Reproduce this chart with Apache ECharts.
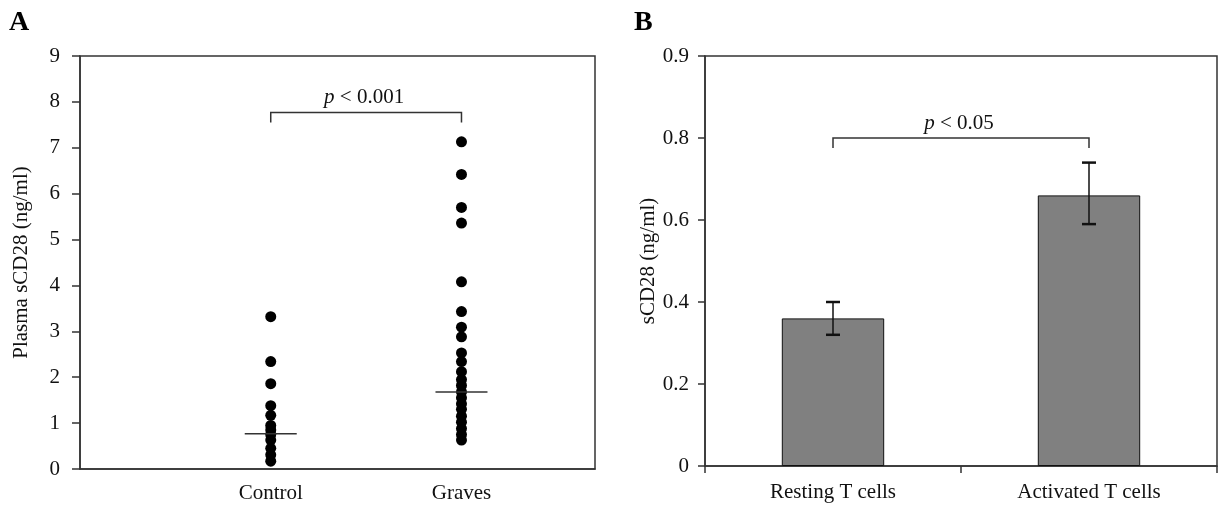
<!DOCTYPE html>
<html>
<head>
<meta charset="utf-8">
<script src="https://cdn.jsdelivr.net/npm/echarts@6/dist/echarts.min.js"></script>
<style>
html,body{margin:0;padding:0;background:#fff;}
#chart{width:1221px;height:505px;}
</style>
</head>
<body>
<div id="chart"></div>
<script>
// ---------- Panel A data ----------
const categoriesA = ['Control', 'Graves'];
const controlValues = [3.32, 2.34, 1.86, 1.38, 1.17, 0.95, 0.85, 0.75, 0.63, 0.45, 0.31, 0.17];
const gravesValues = [7.13, 6.42, 5.70, 5.36, 4.08, 3.43, 3.09, 2.88, 2.53, 2.34, 2.12, 1.95, 1.82, 1.68, 1.55, 1.42, 1.30, 1.15, 1.02, 0.88, 0.75, 0.63];
const mediansA = [0.77, 1.68];
const yTicksA = ['0','1','2','3','4','5','6','7','8','9'];
const bracketA = {from: 1, to: 2, y: 7.77, label: 'p < 0.001'};

// ---------- Panel B data ----------
const categoriesB = ['Resting T cells', 'Activated T cells'];
const barValuesB = [0.36, 0.66];
const errLowB = [0.32, 0.59];
const errHighB = [0.40, 0.74];
const yTicksB = ['0', '0.2', '0.4', '0.6', '0.8', '0.9'];
const bracketB = {from: 0, to: 1, y: 0.80, label: 'p < 0.05'};

const FONT = '"Liberation Serif", "DejaVu Serif", serif';
const FS = 21;
const TXT = '#111';
const LINE = '#333';

function bracketRender(b) {
  return function (params, api) {
    const p1 = api.coord([b.from, b.y]);
    const p2 = api.coord([b.to, b.y]);
    const leg = 10;
    return {
      type: 'group',
      children: [
        {type: 'polyline', shape: {points: [[p1[0], p1[1] + leg], [p1[0], p1[1]], [p2[0], p2[1]], [p2[0], p2[1] + leg]]},
         style: {stroke: LINE, lineWidth: 1.5, fill: null}},
        {type: 'text', x: (p1[0] + p2[0]) / 2 - 2, y: p1[1] - 4,
         style: {text: '{i|p}{n|' + b.label.slice(1) + '}', align: 'center', verticalAlign: 'bottom',
                 rich: {i: {fontStyle: 'italic', fontSize: FS, fontFamily: FONT, fill: TXT},
                        n: {fontSize: FS, fontFamily: FONT, fill: TXT}}}}
      ]
    };
  };
}

const chart = echarts.init(document.getElementById('chart'), null, {renderer: 'canvas'});
const option = {
  animation: false,
  backgroundColor: '#fff',
  graphic: [
    {type: 'text', left: 9, top: 9, style: {text: 'A', font: 'bold 28px ' + FONT, fill: '#000'}},
    {type: 'text', left: 634, top: 9, style: {text: 'B', font: 'bold 28px ' + FONT, fill: '#000'}}
  ],
  grid: [
    {left: 80, top: 56, width: 515, height: 413, show: true, borderColor: LINE, borderWidth: 1.5, backgroundColor: 'transparent'},
    {left: 705, top: 56, width: 512, height: 410, show: true, borderColor: LINE, borderWidth: 1.5, backgroundColor: 'transparent'}
  ],
  xAxis: [
    {gridIndex: 0, type: 'value', min: 0, max: 2.7, interval: 1,
     axisLine: {show: true, lineStyle: {color: LINE, width: 1.5}},
     axisTick: {show: false}, splitLine: {show: false},
     axisLabel: {margin: 14, fontSize: FS, fontFamily: FONT, color: TXT,
       formatter: v => (Number.isInteger(v) && v >= 1 && v <= categoriesA.length) ? categoriesA[v - 1] : ''}},
    {gridIndex: 1, type: 'category', data: categoriesB,
     axisLine: {show: true, lineStyle: {color: LINE, width: 1.5}},
     axisTick: {show: true, length: 7, lineStyle: {color: LINE, width: 1.5}},
     axisLabel: {margin: 16, fontSize: FS, fontFamily: FONT, color: TXT}}
  ],
  yAxis: [
    {gridIndex: 0, type: 'value', min: 0, max: 9, interval: 1,
     name: 'Plasma sCD28 (ng/ml)', nameLocation: 'middle', nameGap: 48,
     nameTextStyle: {fontSize: FS, fontFamily: FONT, color: TXT},
     axisLine: {show: true, lineStyle: {color: LINE, width: 1.5}},
     axisTick: {show: true, length: 8, lineStyle: {color: LINE, width: 1.5}},
     splitLine: {show: false},
     axisLabel: {margin: 20, fontSize: FS, fontFamily: FONT, color: TXT,
       formatter: v => yTicksA[Math.round(v)]}},
    {gridIndex: 1, type: 'value', min: 0, max: 1, interval: 0.2,
     name: 'sCD28 (ng/ml)', nameLocation: 'middle', nameGap: 46,
     nameTextStyle: {fontSize: FS, fontFamily: FONT, color: TXT},
     axisLine: {show: true, lineStyle: {color: LINE, width: 1.5}},
     axisTick: {show: true, length: 7, lineStyle: {color: LINE, width: 1.5}},
     splitLine: {show: false},
     axisLabel: {margin: 16, fontSize: FS, fontFamily: FONT, color: TXT,
       formatter: v => yTicksB[Math.round(v / 0.2)]}}
  ],
  series: [
    {type: 'scatter', xAxisIndex: 0, yAxisIndex: 0, symbol: 'circle', symbolSize: 11,
     itemStyle: {color: '#000', opacity: 1}, data: controlValues.map(v => [1, v])},
    {type: 'scatter', xAxisIndex: 0, yAxisIndex: 0, symbol: 'circle', symbolSize: 11,
     itemStyle: {color: '#000', opacity: 1}, data: gravesValues.map(v => [2, v])},
    {type: 'custom', xAxisIndex: 0, yAxisIndex: 0, z: 5,
     data: mediansA.map((m, i) => [i + 1, m]),
     renderItem: function (params, api) {
       const c = api.coord([api.value(0), api.value(1)]);
       return {type: 'line', shape: {x1: c[0] - 26, y1: c[1], x2: c[0] + 26, y2: c[1]},
               style: {stroke: LINE, lineWidth: 1.5}};
     }},
    {type: 'custom', xAxisIndex: 0, yAxisIndex: 0, data: [[bracketA.from, bracketA.y]],
     renderItem: bracketRender(bracketA)},
    {type: 'bar', xAxisIndex: 1, yAxisIndex: 1, barWidth: '40%', data: barValuesB,
     itemStyle: {color: '#808080', borderColor: '#111', borderWidth: 1}},
    {type: 'custom', xAxisIndex: 1, yAxisIndex: 1, z: 5,
     data: categoriesB.map((c, i) => [i, errLowB[i], errHighB[i]]),
     renderItem: function (params, api) {
       const lo = api.coord([api.value(0), api.value(1)]);
       const hi = api.coord([api.value(0), api.value(2)]);
       const w = 7;
       return {type: 'group', children: [
         {type: 'line', shape: {x1: lo[0], y1: lo[1], x2: hi[0], y2: hi[1]}, style: {stroke: '#111', lineWidth: 1.5}},
         {type: 'line', shape: {x1: lo[0] - w, y1: lo[1], x2: lo[0] + w, y2: lo[1]}, style: {stroke: '#111', lineWidth: 2.5}},
         {type: 'line', shape: {x1: hi[0] - w, y1: hi[1], x2: hi[0] + w, y2: hi[1]}, style: {stroke: '#111', lineWidth: 2.5}}
       ]};
     }},
    {type: 'custom', xAxisIndex: 1, yAxisIndex: 1, data: [[bracketB.from, bracketB.y]],
     renderItem: bracketRender(bracketB)}
  ]
};
chart.setOption(option);
</script>
</body>
</html>
